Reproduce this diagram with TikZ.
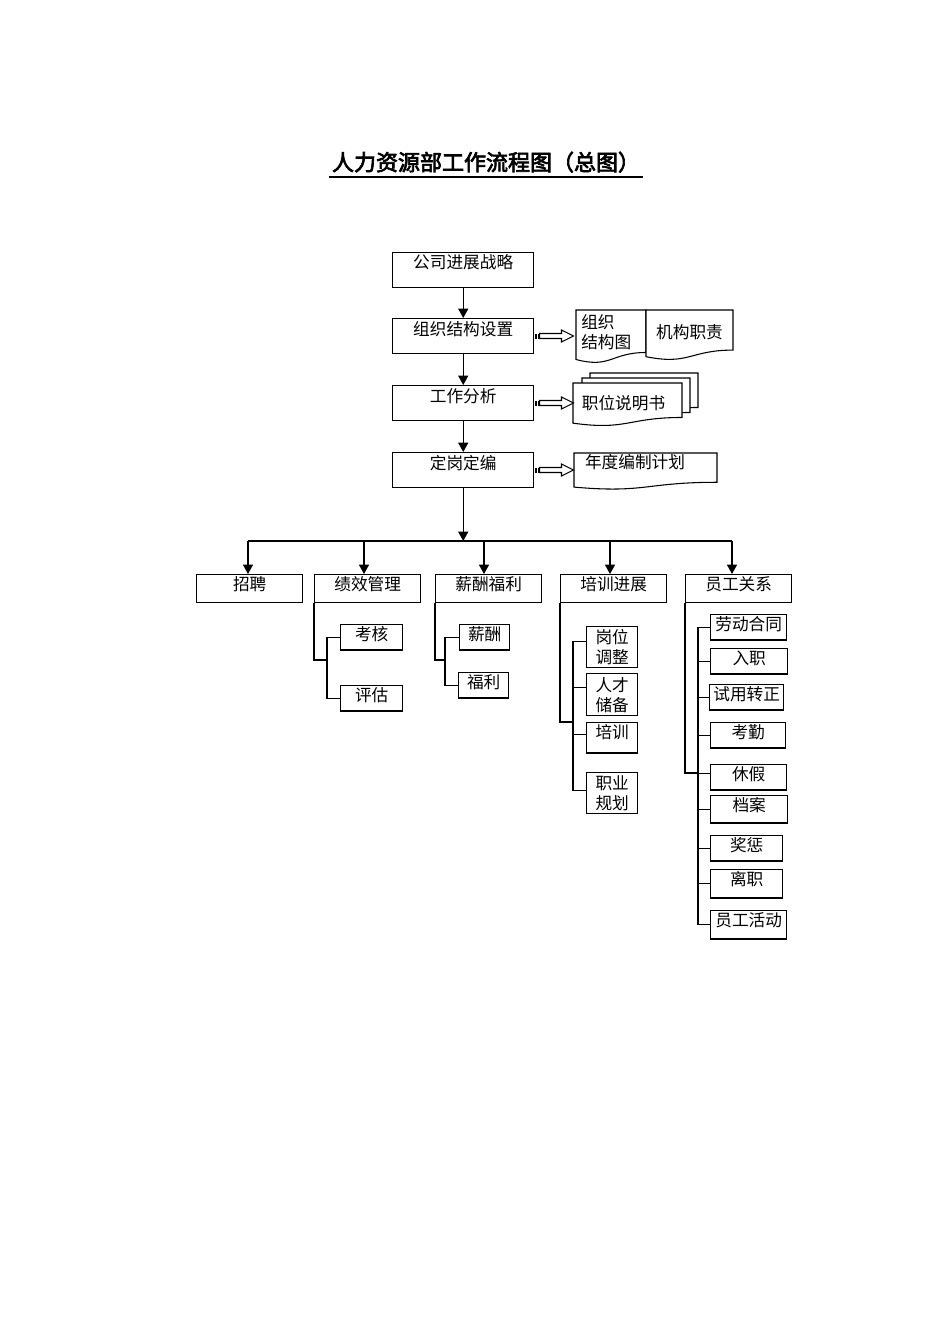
\documentclass[tikz,border=0pt]{standalone}
\usepackage{fontspec}
\newfontfamily\cjk[AutoFakeBold=3]{Noto Sans CJK SC}
\usetikzlibrary{arrows.meta,calc}
\newcommand\docshape[4]{%
  \draw[docln] (#1,#2) -- (#3,#2) -- (#3,{#2+0.802*#4})
    .. controls ({(#1+#3)/2},{#2+0.802*#4}) and ({(#1+#3)/2},{#2+1.108*#4}) .. (#1,{#2+0.934*#4}) -- cycle;}
\newcommand\stripearrow[1]{%
  \fill ([shift={(1,-2.5)}]#1.east) rectangle ++(1.5,5);
  \fill ([shift={(3.5,-2.5)}]#1.east) rectangle ++(1.5,5);
  \draw[line width=0.8pt] ([shift={(5,-2.5)}]#1.east) -- ++(22,0) -- ++(0,-3.5) -- ++(12,6) -- ++(-12,6) -- ++(0,-3.5) -- ++(-22,0) -- cycle;}
\begin{document}
\begin{tikzpicture}[x=0.75pt,y=-0.75pt,
  bx/.style={draw, line width=1.1pt, inner sep=0pt, font=\cjk\fontsize{12.5}{15}\selectfont},
  tb/.style={bx, anchor=north west, minimum width=105.75pt, text height=12.2pt, text depth=13.7pt},
  mb/.style={bx, anchor=north west, minimum width=79.5pt, text height=11.5pt, text depth=9.5pt},
  sb/.style={bx, anchor=north west, text height=11.6pt, text depth=7.2pt},
  db/.style={bx, anchor=north west, align=center, minimum width=38.25pt},
  ln/.style={line width=1pt},
  arr/.style={ln, -{Triangle[length=7pt,width=7.5pt]}},
  docln/.style={line width=0.8pt, fill=white},
  doctext/.style={inner sep=0pt, font=\cjk\fontsize{12.5}{15}\selectfont},
]
\useasboundingbox (0,0) rectangle (950,1344);

% title
\node[inner sep=0pt, anchor=base, font=\cjk\bfseries\fontsize{16.5}{20}\selectfont] (title) at (486,170.5) {人力资源部工作流程图（总图）};
\draw[line width=1.8pt] ([yshift=-5pt,xshift=-2pt]title.base west) -- ([yshift=-5pt,xshift=2pt]title.base east);

% main chain
\node[tb] (gs) at (392,252) {公司进展战略};
\node[tb] (zz) at (392,318) {组织结构设置};
\node[tb] (gz) at (392,385) {工作分析};
\node[tb] (dg) at (392,452) {定岗定编};
\draw[arr] (gs.south) -- (zz.north);
\draw[arr] (zz.south) -- (gz.north);
\draw[arr] (gz.south) -- (dg.north);

% documents
\docshape{576}{310}{646}{53}
\docshape{646}{310}{733}{50}
\docshape{590}{373}{698}{43}
\docshape{582}{378}{690}{43}
\docshape{573}{383}{682}{43}
\docshape{574}{453}{717}{36.5}
\node[doctext, anchor=west, align=left] (dt1) at (581,332.5) {组织\\结构图};
\node[doctext] (dt2) at (689.5,332) {机构职责};
\node[doctext] (dt3) at (623.5,403) {职位说明书};
\node[doctext] (dt4) at (635,462) {年度编制计划};
\stripearrow{zz}
\stripearrow{gz}
\stripearrow{dg}

% second level
\node[mb] (zp) at (196,574) {招聘};
\node[mb] (jx) at (314,574) {绩效管理};
\node[mb] (xc) at (435,574) {薪酬福利};
\node[mb] (px) at (560,574) {培训进展};
\node[mb] (yg) at (685,574) {员工关系};
\coordinate (t1) at (248,541);
\coordinate (t2) at (364,541);
\coordinate (t3) at (484,541);
\coordinate (t4) at (610,541);
\coordinate (t5) at (732,541);
\draw[arr] (dg.south) -- (dg.south |- t1);
\draw[ln] (t1) -- (t5);
\draw[arr] (t1) -- (t1 |- zp.north);
\draw[arr] (t2) -- (t2 |- jx.north);
\draw[arr] (t3) -- (t3 |- xc.north);
\draw[arr] (t4) -- (t4 |- px.north);
\draw[arr] (t5) -- (t5 |- yg.north);

% performance
\node[sb, minimum width=46.5pt] (kh) at (340,624) {考核};
\node[sb, minimum width=46.5pt] (pg) at (340,685) {评估};
\coordinate (b2) at (327,660);
\draw[ln] (jx.south west) |- (b2);
\draw[ln] (kh.west) -| (b2);
\draw[ln] (pg.west) -| (b2);

% pay
\node[sb, minimum width=37.5pt] (xo) at (459,624) {薪酬};
\node[sb, minimum width=37.5pt] (fl) at (458,672) {福利};
\coordinate (b3) at (445,660);
\draw[ln] (xc.south west) |- (b3);
\draw[ln] (xo.west) -| (b3);
\draw[ln] (fl.west) -| (b3);

% training
\node[db, minimum height=30.75pt] (gw) at (586,626) {岗位\\调整};
\node[db, minimum height=31.5pt] (rc) at (586,673) {人才\\储备};
\node[sb, minimum width=38.25pt, text depth=11pt] (pxx) at (586,722) {培训};
\node[db, minimum height=30.75pt] (zy) at (586,772) {职业\\规划};
\coordinate (b4) at (573,722);
\draw[ln] (px.south west) |- (b4);
\draw[ln] ([yshift=4.5pt]gw.west) -| (b4);
\draw[ln] ([yshift=5.5pt]rc.west) -| (b4);
\draw[ln] ([yshift=2.5pt]pxx.west) -- ([yshift=2.5pt]pxx.west -| b4);
\draw[ln] ([yshift=2pt]zy.west) -| (b4);

% employee relations
\node[sb, minimum width=57pt] (ld) at (710,614) {劳动合同};
\node[sb, minimum width=57.75pt] (rz) at (710,648) {入职};
\node[sb, minimum width=55.5pt] (sy) at (709,684) {试用转正};
\node[sb, minimum width=56.25pt] (kq) at (710,722) {考勤};
\node[sb, minimum width=57pt] (xj) at (710,764) {休假};
\node[sb, minimum width=57.75pt, text depth=8.7pt] (da) at (710,795) {档案};
\node[sb, minimum width=54pt] (jc) at (710,835) {奖惩};
\node[sb, minimum width=54pt, text depth=9.5pt] (lz) at (710,869) {离职};
\node[sb, minimum width=57pt, text depth=9.5pt] (hd) at (710,910) {员工活动};
\coordinate (b5) at (698,773);
\draw[ln] (yg.south west) |- (b5);
\draw[ln] (ld.west) -| (b5);
\draw[ln] (hd.west) -| (b5);
\draw[ln] ([yshift=3pt]xj.west) -- ([yshift=3pt]xj.west -| b5);
\foreach \n in {rz,sy,kq,da,jc,lz} \draw[ln] (\n.west) -- (\n.west -| b5);
\end{tikzpicture}
\end{document}
